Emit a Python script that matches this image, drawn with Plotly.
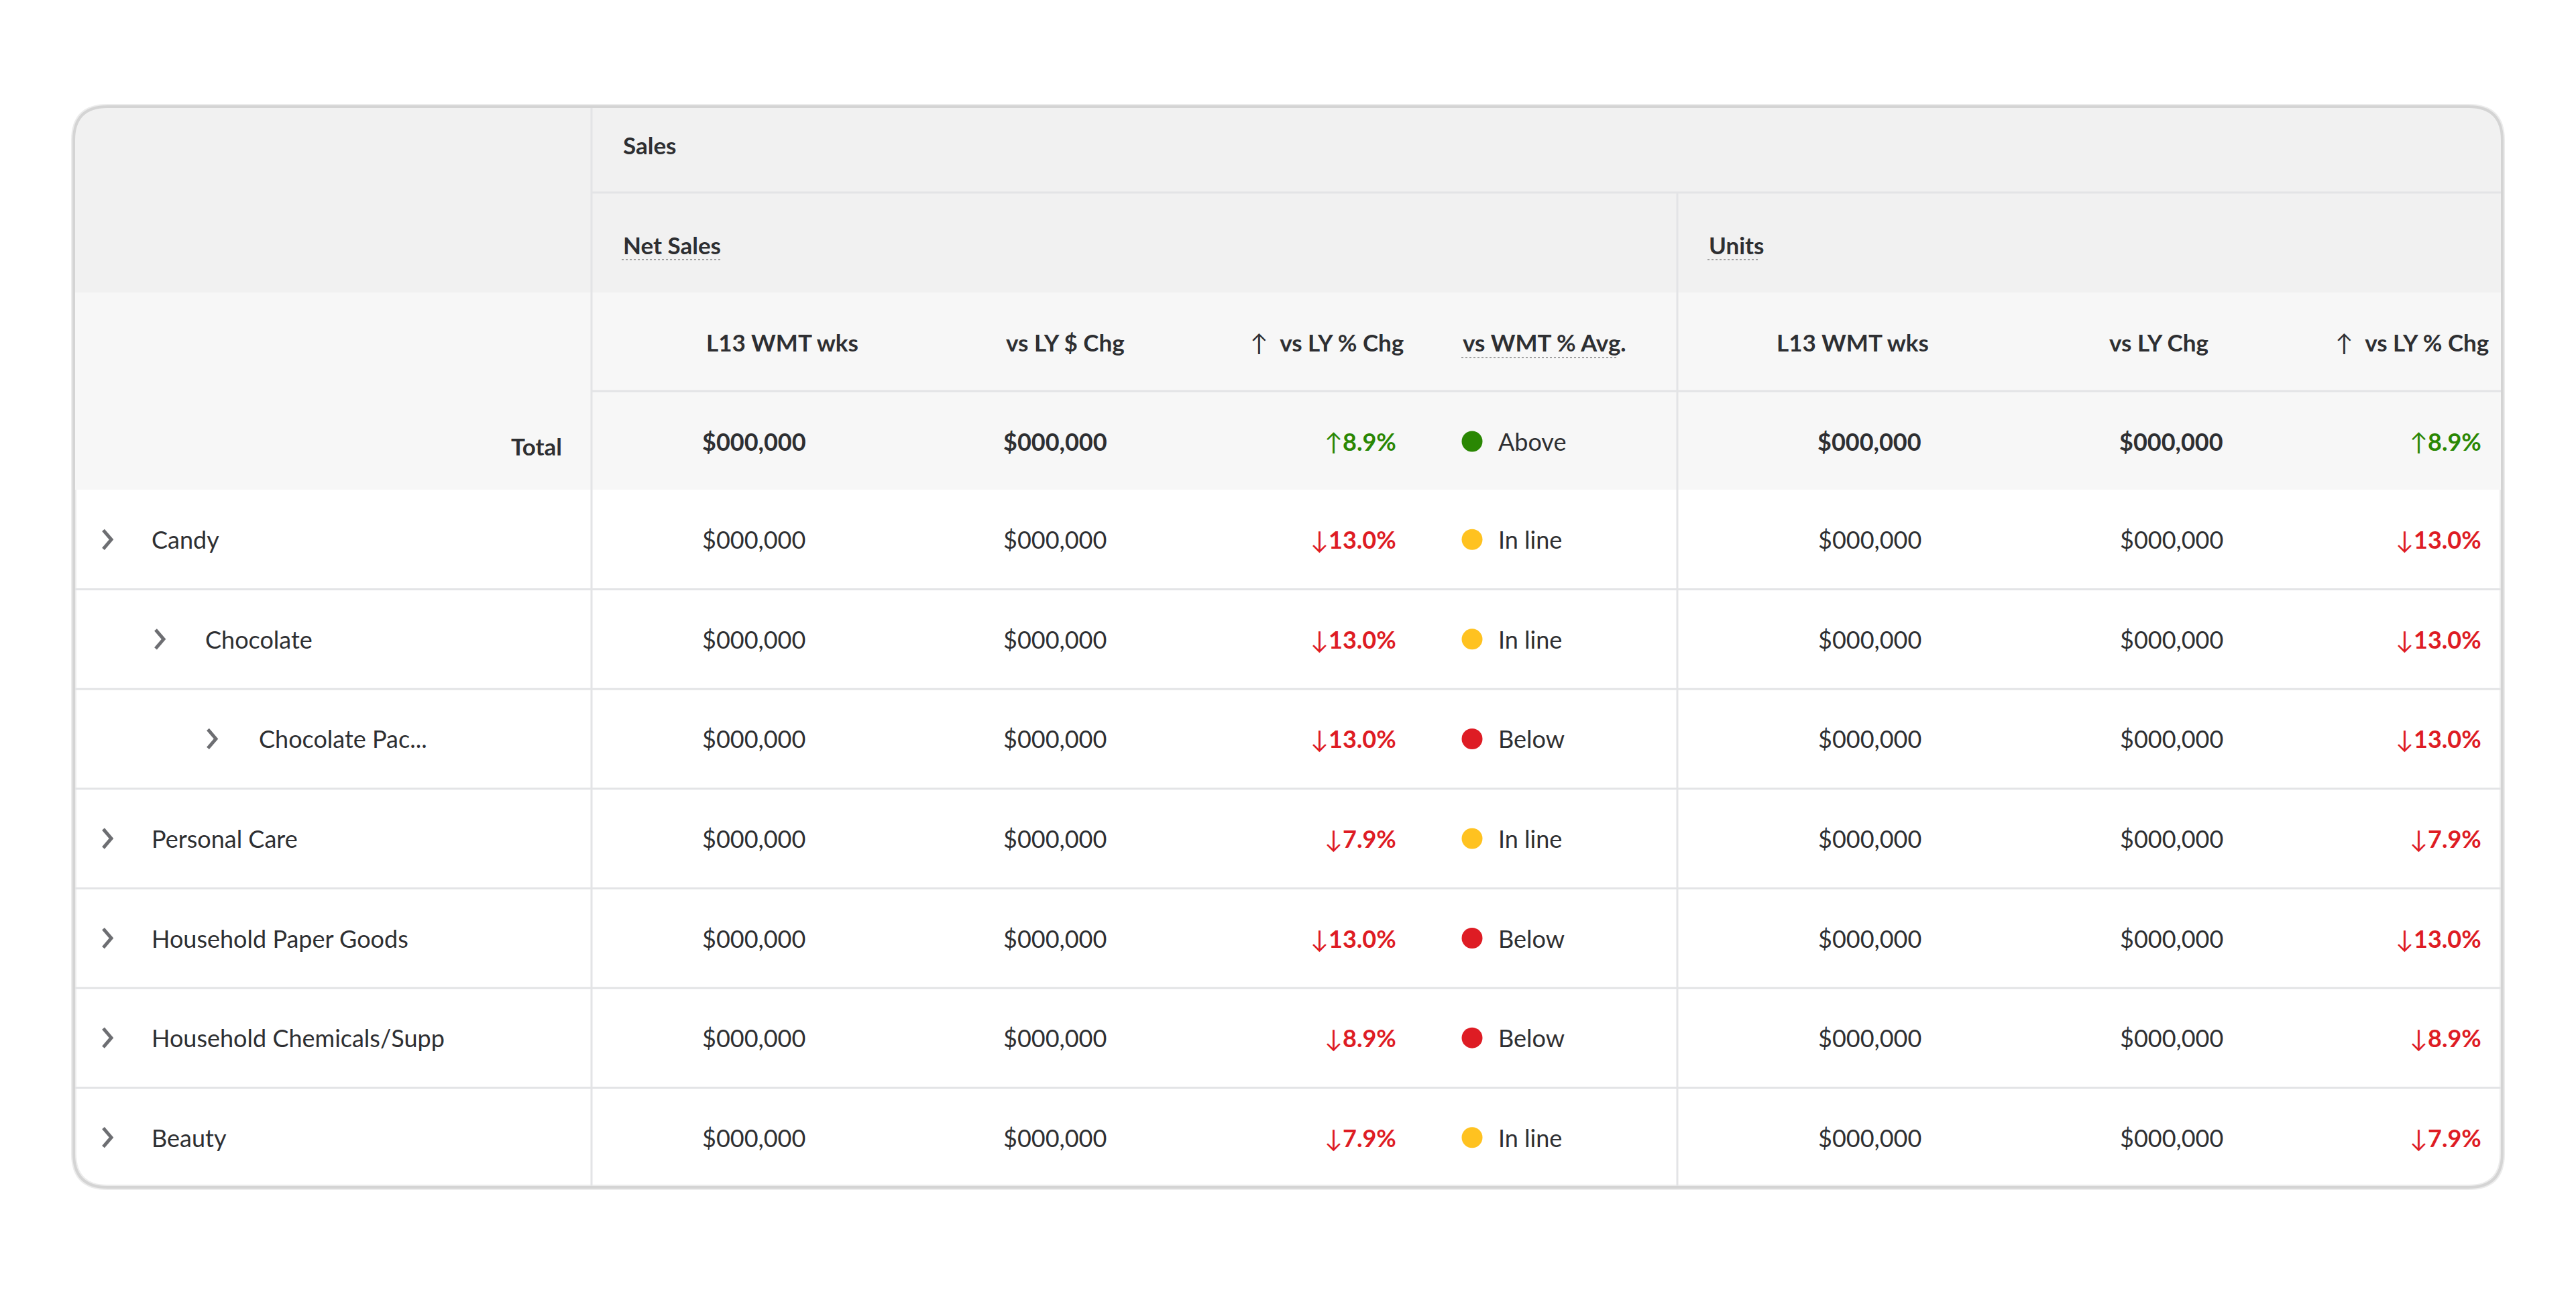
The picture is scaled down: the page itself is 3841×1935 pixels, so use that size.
import plotly.graph_objects as go

# ---- data ----
categories = ["Candy", "Chocolate", "Chocolate Pac...", "Personal Care",
              "Household Paper Goods", "Household Chemicals/Supp", "Beauty"]
levels = [0, 1, 2, 0, 0, 0, 0]
net_sales = ["$000,000", "$000,000", "$000,000", "$000,000", "$000,000", "$000,000", "$000,000"]
net_sales_chg = ["$000,000", "$000,000", "$000,000", "$000,000", "$000,000", "$000,000", "$000,000"]
net_sales_pct = [-13.0, -13.0, -13.0, -7.9, -13.0, -8.9, -7.9]
wmt_status = ["In line", "In line", "Below", "In line", "Below", "Below", "In line"]
units = ["$000,000", "$000,000", "$000,000", "$000,000", "$000,000", "$000,000", "$000,000"]
units_chg = ["$000,000", "$000,000", "$000,000", "$000,000", "$000,000", "$000,000", "$000,000"]
units_pct = [-13.0, -13.0, -13.0, -7.9, -13.0, -8.9, -7.9]

total_net_sales = "$000,000"
total_net_sales_chg = "$000,000"
total_net_sales_pct = 8.9
total_status = "Above"
total_units = "$000,000"
total_units_chg = "$000,000"
total_units_pct = 8.9

group_label = "Sales"
sub_labels = ["Net Sales", "Units"]
col_headers = ["L13 WMT wks", "vs LY $ Chg", "vs LY % Chg", "vs WMT % Avg.",
               "L13 WMT wks", "vs LY Chg", "vs LY % Chg"]

# ---- look ----
W, H = 3841, 1935
FONT = "Lato"
TXT = "#2e2f32"
RED = "#de1c24"
GREEN = "#2a8703"
status_colors = {"Above": GREEN, "In line": "#ffc220", "Below": RED}
LINE = "#e3e4e6"
FS = 36
FS_HEAD = 35

# box geometry
X0, X1, Y0, Y1, R = 110, 3731, 159, 1770, 50
DIV1, DIV2 = 882, 2501
Y_SALES_END, Y_SUB_END, Y_HEAD_END, Y_TOTAL_END = 287, 436, 583, 730
ROW_H = (Y1 - Y_TOTAL_END) / len(categories)
row_y = [Y_TOTAL_END + ROW_H * (i + 0.5) for i in range(len(categories))]


def pct_text(v):
    arrow = "↑" if v >= 0 else "↓"
    return f"{arrow}<b>{abs(v):.1f}%</b>"


def pct_color(v):
    return GREEN if v >= 0 else RED


def box_path(top_only_bottom=None):
    # rounded rectangle; if top_only_bottom is given, square bottom at that y
    if top_only_bottom is None:
        return (f"M {X0+R},{Y0} L {X1-R},{Y0} Q {X1},{Y0} {X1},{Y0+R} L {X1},{Y1-R} "
                f"Q {X1},{Y1} {X1-R},{Y1} L {X0+R},{Y1} Q {X0},{Y1} {X0},{Y1-R} "
                f"L {X0},{Y0+R} Q {X0},{Y0} {X0+R},{Y0} Z")
    yb = top_only_bottom
    return (f"M {X0+R},{Y0} L {X1-R},{Y0} Q {X1},{Y0} {X1},{Y0+R} L {X1},{yb} "
            f"L {X0},{yb} L {X0},{Y0+R} Q {X0},{Y0} {X0+R},{Y0} Z")


fig = go.Figure()

shapes = []
# soft shadow + white box
shapes.append(dict(type="path", layer="below", line=dict(color="#ececec", width=8),
                   fillcolor="white", path=box_path()))
# header band with rounded top corners
shapes.append(dict(type="path", layer="below", line=dict(width=0), fillcolor="#f1f1f1",
                   path=box_path(Y_SUB_END)))
shapes.append(dict(type="rect", layer="below", line=dict(width=0), fillcolor="#f7f7f7",
                   x0=X0, x1=X1, y0=Y_SUB_END, y1=Y_TOTAL_END))
# horizontal rules
shapes.append(dict(type="line", x0=DIV1, x1=X1, y0=Y_SALES_END, y1=Y_SALES_END, line=dict(color=LINE, width=3)))
shapes.append(dict(type="line", x0=DIV1, x1=X1, y0=Y_HEAD_END, y1=Y_HEAD_END, line=dict(color=LINE, width=3)))
for i in range(1, len(categories)):
    yy = Y_TOTAL_END + ROW_H * i
    shapes.append(dict(type="line", x0=X0, x1=X1, y0=yy, y1=yy, line=dict(color=LINE, width=3)))
# vertical rules
shapes.append(dict(type="line", x0=DIV1, x1=DIV1, y0=Y0, y1=Y1, line=dict(color=LINE, width=3)))
shapes.append(dict(type="line", x0=DIV2, x1=DIV2, y0=Y_SALES_END, y1=Y1, line=dict(color=LINE, width=3)))
# dotted underlines
for xa, xb, yy in [(927, 1076, 387), (2546, 2621, 387), (2179, 2413, 533)]:
    shapes.append(dict(type="line", x0=xa, x1=xb, y0=yy, y1=yy, line=dict(color="#a0a0a0", width=2, dash="dot")))
# outer border
shapes.append(dict(type="path", line=dict(color="#d4d4d4", width=4), fillcolor="rgba(0,0,0,0)",
                   path=box_path()))

annotations = []


def add_text(x, y, text, anchor, color=TXT, size=FS, bold=False):
    annotations.append(dict(x=x, y=y, xref="x", yref="y", text=f"<b>{text}</b>" if bold else text,
                            showarrow=False, xanchor=anchor, yanchor="middle",
                            font=dict(family=FONT, size=size, color=color)))


# group headers
add_text(927, 216, group_label, "left", size=FS_HEAD, bold=True)
add_text(927, 365, sub_labels[0], "left", size=FS_HEAD, bold=True)
add_text(2546, 365, sub_labels[1], "left", size=FS_HEAD, bold=True)

# column headers: (x, anchor)
head_pos = [(1051, "left"), (1498, "left"), (2095, "right"), (2179, "left"),
            (2878, "right"), (3295, "right"), (3713, "right")]
for (hx, anc), lab in zip(head_pos, col_headers):
    if "%" in lab and "Chg" in lab:
        add_text(hx, 510, f"↑  <b>{lab}</b>", anc, size=FS_HEAD)
    else:
        add_text(hx, 510, lab, anc, size=FS_HEAD, bold=True)

# value columns: (x, anchor)
val_pos = {"ns": (1045, "left"), "nc": (1494, "left"), "np": (2084, "right"),
           "dot": 2195, "st": (2232, "left"),
           "u": (2867, "right"), "uc": (3317, "right"), "up": (3702, "right")}

# total row
TY = 658
add_text(840, 665, "Total", "right", size=FS_HEAD, bold=True)
add_text(val_pos["ns"][0], TY, total_net_sales, val_pos["ns"][1], bold=True)
add_text(val_pos["nc"][0], TY, total_net_sales_chg, val_pos["nc"][1], bold=True)
add_text(val_pos["np"][0], TY, pct_text(total_net_sales_pct), val_pos["np"][1], color=pct_color(total_net_sales_pct))
add_text(val_pos["st"][0], TY, total_status, val_pos["st"][1])
add_text(val_pos["u"][0], TY, total_units, val_pos["u"][1], bold=True)
add_text(val_pos["uc"][0], TY, total_units_chg, val_pos["uc"][1], bold=True)
add_text(val_pos["up"][0], TY, pct_text(total_units_pct), val_pos["up"][1], color=pct_color(total_units_pct))

# data rows
for i, cat in enumerate(categories):
    y = row_y[i]
    add_text(224 + 80 * levels[i], y, cat, "left")
    add_text(val_pos["ns"][0], y, net_sales[i], val_pos["ns"][1])
    add_text(val_pos["nc"][0], y, net_sales_chg[i], val_pos["nc"][1])
    add_text(val_pos["np"][0], y, pct_text(net_sales_pct[i]), val_pos["np"][1], color=pct_color(net_sales_pct[i]))
    add_text(val_pos["st"][0], y, wmt_status[i], val_pos["st"][1])
    add_text(val_pos["u"][0], y, units[i], val_pos["u"][1])
    add_text(val_pos["uc"][0], y, units_chg[i], val_pos["uc"][1])
    add_text(val_pos["up"][0], y, pct_text(units_pct[i]), val_pos["up"][1], color=pct_color(units_pct[i]))

# chevrons
cx, cy = [], []
for i, lvl in enumerate(levels):
    x = 160 + 78 * lvl
    y = row_y[i]
    cx += [x - 6, x + 6, x - 6, None]
    cy += [y - 14, y, y + 14, None]
fig.add_trace(go.Scatter(x=cx, y=cy, mode="lines", line=dict(color="#6d6e72", width=5),
                         hoverinfo="skip", showlegend=False))

# status dots
all_status = [total_status] + wmt_status
all_y = [TY] + row_y
fig.add_trace(go.Scatter(x=[val_pos["dot"]] * len(all_status), y=all_y, mode="markers",
                         marker=dict(size=31, color=[status_colors[s] for s in all_status], line=dict(width=0)),
                         hovertext=all_status, hoverinfo="text", showlegend=False))

fig.update_layout(
    width=W, height=H,
    margin=dict(l=0, r=0, t=0, b=0),
    paper_bgcolor="white", plot_bgcolor="white",
    xaxis=dict(range=[0, W], visible=False, fixedrange=True),
    yaxis=dict(range=[H, 0], visible=False, fixedrange=True),
    shapes=shapes,
    annotations=annotations,
    showlegend=False,
)

fig.write_html("out.html", config={"displayModeBar": False},
               post_script="document.body.style.margin='0';document.body.style.overflow='hidden';")
